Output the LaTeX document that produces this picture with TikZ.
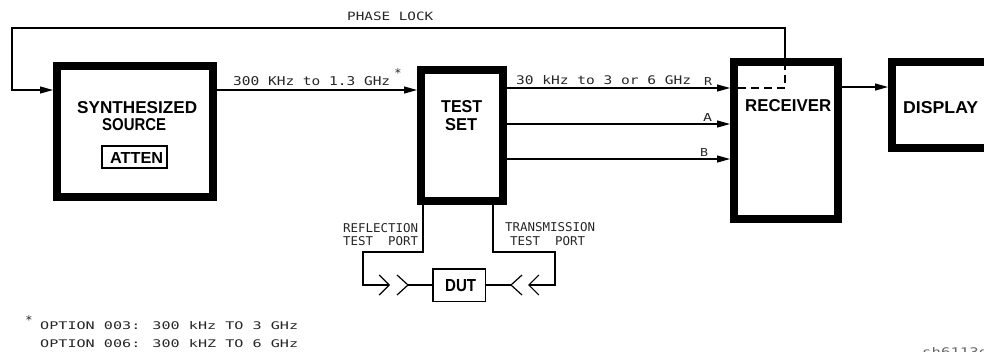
\documentclass[tikz,border=0pt]{standalone}
\usepackage{graphicx}
\usepackage{fontspec}
\usetikzlibrary{arrows.meta}
\newfontfamily\thinf{DejaVu Sans Mono}
\newfontfamily\boldf{Liberation Sans}
\newcommand\fitbox[3]{\resizebox{#1pt}{#2pt}{#3}}
\tikzset{
  blk/.style={draw, line width=8pt, inner sep=0pt},
  thinline/.style={line width=1.2pt},
  arr/.style={thinline, -{Triangle[length=13pt,width=7pt]}},
  barb/.style={thinline, -{Straight Barb[length=10pt,width=20pt,line width=1.2pt]}},
  dashln/.style={thinline, dash pattern=on 8pt off 5pt},
  txt/.style={inner sep=0pt, anchor=base west, text=black!85, font=\thinf},
  btxt/.style={inner sep=0pt, anchor=base west, font=\boldf\bfseries},
}
\begin{document}
\begin{tikzpicture}[x=1pt,y=-1pt]
\useasboundingbox (0,0) rectangle (984,351);

% boxes
\node[blk, minimum width=156pt, minimum height=131pt] (src) at (135,131.5) {};
\node[blk, minimum width=82pt, minimum height=131pt] (ts) at (462,135.5) {};
\node[blk, minimum width=104pt, minimum height=157pt] (rcv) at (786,140.5) {};
\node[blk, minimum width=108pt, minimum height=86pt] (disp) at (946,105) {};
\node[draw, line width=2pt, inner sep=0pt, minimum width=65pt, minimum height=22pt] (att) at (134.5,157) {};
\node[draw, line width=1.5pt, inner sep=0pt, minimum width=52.5pt, minimum height=32.5pt] (dut) at (459,285) {};

% box labels
\node[btxt] (tsyn) at (77,113) {\fitbox{120}{12}{SYNTHESIZED}};
\node[btxt] (tsrc) at (102,130) {\fitbox{64}{12}{SOURCE}};
\node[btxt] (tatt) at (110,163) {\fitbox{53}{11}{ATTEN}};
\node[btxt] (ttest) at (441,112.5) {\fitbox{41}{12}{TEST}};
\node[btxt] (tset) at (445,130) {\fitbox{32}{12}{SET}};
\node[btxt] (trcv) at (745,111) {\fitbox{86}{12}{RECEIVER}};
\node[btxt] (tdisp) at (903,113) {\fitbox{75}{12}{DISPLAY}};
\node[btxt] (tdut) at (445,291.5) {\fitbox{31}{12}{DUT}};

% coordinates
\coordinate (yS) at (0,90);
\coordinate (yR) at (0,88);
\coordinate (yA) at (0,124);
\coordinate (yB) at (0,159);
\coordinate (yD) at (0,87);
\coordinate (pl) at (785,88);
\coordinate (plin) at (738,88);
\coordinate (pltop) at (785,62);
\coordinate (plc1) at (785,28);
\coordinate (plc2) at (12,28);
\coordinate (plc3) at (12,90);

% main connectors
\draw[arr] (src.east |- yS) -- (ts.west |- yS);
\draw[arr] (ts.east |- yR) -- (rcv.west |- yR);
\draw[arr] (ts.east |- yA) -- (rcv.west |- yA);
\draw[arr] (ts.east |- yB) -- (rcv.west |- yB);
\draw[arr] (rcv.east |- yD) -- (disp.west |- yD);

% phase lock loop
\draw[dashln] (plin) -- (pl) -- (pltop);
\draw[arr] (pltop) -- (plc1) -- (plc2) -- (plc3) -- (src.west |- yS);

% test ports
\coordinate (rp1) at (423,252);
\coordinate (rp2) at (363,252);
\coordinate (rp3) at (363,285);
\coordinate (rpe) at (390,285);
\coordinate (tp1) at (493,252);
\coordinate (tp2) at (555,252);
\coordinate (tp3) at (555,285);
\coordinate (tpe) at (528,285);
\coordinate (jl) at (408,285);
\coordinate (jr) at (511,285);
\draw[barb] (ts.south -| rp1) -- (rp1) -- (rp2) -- (rp3) -- (rpe);
\draw[barb] (ts.south -| tp1) -- (tp1) -- (tp2) -- (tp3) -- (tpe);
\draw[thinline] (dut.west) -- (jl);
\draw[thinline] (jl) ++(-11,-10) -- (jl) -- ++(-11,10);
\draw[thinline] (dut.east) -- (jr);
\draw[thinline] (jr) ++(11,-10) -- (jr) -- ++(11,10);

% thin labels
\node[txt] (lphase) at (347,20) {\fitbox{86}{8.5}{PHASE LOCK}};
\node[txt] (lsrc) at (233,85) {\fitbox{157}{9}{300 KHz to 1.3 GHz}};
\node[txt, anchor=center, font=\thinf\fontsize{12}{12}\selectfont] (last) at (398,73) {*};
\node[txt] (lrcv) at (516,84) {\fitbox{175}{9}{30 kHz to 3 or 6 GHz}};
\node[txt] (lR) at (704,85) {\fitbox{8}{8}{R}};
\node[txt] (lA) at (703,121) {\fitbox{9}{8}{A}};
\node[txt] (lB) at (700,156) {\fitbox{8}{8}{B}};
\node[txt] (lref1) at (343,232) {\fitbox{75}{9}{REFLECTION}};
\node[txt] (lref2) at (343,245) {\fitbox{75}{9}{TEST\ \ PORT}};
\node[txt] (ltr1) at (505,231) {\fitbox{90}{9}{TRANSMISSION}};
\node[txt] (ltr2) at (510,245) {\fitbox{75}{9}{TEST\ \ PORT}};
\node[txt, anchor=center, font=\thinf\fontsize{12}{12}\selectfont] (fast) at (29,320) {*};
\node[txt] (fn1) at (40,329) {\fitbox{258}{8}{OPTION 003: 300 kHz TO 3 GHz}};
\node[txt] (fn2) at (40,347) {\fitbox{258}{8}{OPTION 006: 300 kHZ TO 6 GHz}};
\node[txt, text=black!60] (fig) at (922,356) {\fitbox{66}{9}{sh6113d}};
\end{tikzpicture}
\end{document}
